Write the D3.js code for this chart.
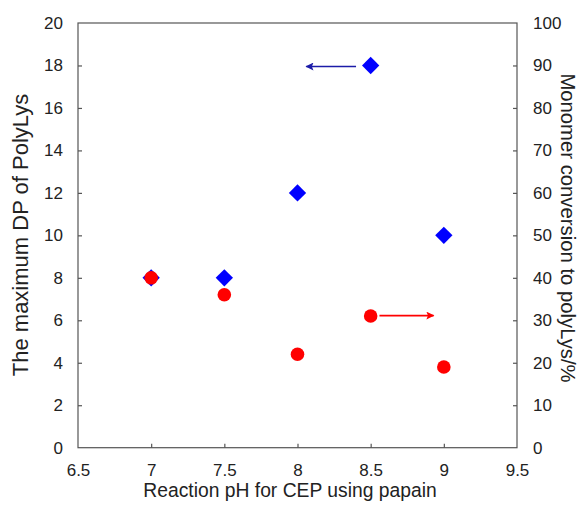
<!DOCTYPE html>
<html><head><meta charset="utf-8">
<script src="https://cdn.jsdelivr.net/npm/d3@7"></script>
<style>body{margin:0;background:#fff;} text{font-family:"Liberation Sans",Arial,sans-serif;fill:#222;}</style>
</head><body>
<svg id="c" width="582" height="506"></svg>
<script>
const phValues = [7, 7.5, 8, 8.5, 9];
const maxDP = [8, 8, 12, 18, 10];
const conversion = [40, 36, 22, 31, 19];
const xTicks = [6.5, 7, 7.5, 8, 8.5, 9, 9.5];
const yLeftTicks = [0, 2, 4, 6, 8, 10, 12, 14, 16, 18, 20];
const yRightTicks = [0, 10, 20, 30, 40, 50, 60, 70, 80, 90, 100];
const blueArrow = {x1: 8.40, x2: 8.06, y: 17.95};
const redArrow = {x1: 8.56, x2: 8.93, y: 31.1};

const svg = d3.select("#c");
const L = 78, R = 517, T = 23, B = 447.7;
const x = d3.scaleLinear().domain([6.5, 9.5]).range([L, R]);
const yL = d3.scaleLinear().domain([0, 20]).range([B, T]);
const yR = d3.scaleLinear().domain([0, 100]).range([B, T]);
const axisColor = "#555";

svg.append("rect").attr("x", L).attr("y", T).attr("width", R - L).attr("height", B - T)
  .attr("fill", "none").attr("stroke", axisColor).attr("stroke-width", 1.2);

function styleAxis(g) {
  g.select(".domain").remove();
  g.selectAll(".tick line").attr("stroke", axisColor).attr("stroke-width", 1.2);
  g.selectAll(".tick text").attr("font-size", 17).attr("fill", "#222")
    .attr("font-family", '"Liberation Sans",Arial,sans-serif');
}
const gx = svg.append("g").attr("transform", `translate(0,${B})`)
  .call(d3.axisBottom(x).tickValues(xTicks).tickFormat(d3.format("")).tickSizeInner(-4).tickPadding(16));
styleAxis(gx);
gx.selectAll(".tick").filter(d => d === 6.5 || d === 9.5).select("line").remove();

const gl = svg.append("g").attr("transform", `translate(${L},0)`)
  .call(d3.axisLeft(yL).tickValues(yLeftTicks).tickFormat(d3.format("")).tickSizeInner(-4).tickPadding(15));
styleAxis(gl);
gl.selectAll(".tick").filter(d => d === 0 || d === 20).select("line").remove();

const gr = svg.append("g").attr("transform", `translate(${R},0)`)
  .call(d3.axisRight(yR).tickValues(yRightTicks).tickFormat(d3.format("")).tickSizeInner(-4).tickPadding(16));
styleAxis(gr);
gr.selectAll(".tick").filter(d => d === 0 || d === 100).select("line").remove();

svg.append("text").attr("x", 290).attr("y", 497).attr("text-anchor", "middle")
  .attr("font-size", 19.3).text("Reaction pH for CEP using papain");
svg.append("text").attr("transform", `translate(28,235) rotate(-90)`).attr("text-anchor", "middle")
  .attr("font-size", 22).text("The maximum DP of PolyLys");
svg.append("text").attr("transform", `translate(561,228) rotate(90)`).attr("text-anchor", "middle")
  .attr("font-size", 20.3).text("Monomer conversion to polyLys/%");

const diamond = d3.symbol().type(d3.symbolSquare).size(150);
svg.append("g").selectAll("path").data(phValues.map((p, i) => [p, maxDP[i]])).join("path")
  .attr("d", diamond)
  .attr("transform", d => `translate(${x(d[0])},${yL(d[1])}) rotate(45)`)
  .attr("fill", "#0000ff");

svg.append("g").selectAll("circle").data(phValues.map((p, i) => [p, conversion[i]])).join("circle")
  .attr("cx", d => x(d[0])).attr("cy", d => yR(d[1])).attr("r", 6.8)
  .attr("fill", "#ff0000");

const defs = svg.append("defs");
function marker(id, color) {
  defs.append("marker").attr("id", id).attr("viewBox", "0 0 10 10").attr("refX", 9).attr("refY", 5)
    .attr("markerWidth", 10).attr("markerHeight", 8).attr("markerUnits", "userSpaceOnUse").attr("orient", "auto")
    .append("path").attr("d", "M0,0 L10,5 L0,10 L2,5 Z").attr("fill", color);
}
marker("mb", "#1c1ca8");
marker("mr", "#ff0000");
svg.append("line").attr("x1", x(blueArrow.x1)).attr("x2", x(blueArrow.x2))
  .attr("y1", yL(blueArrow.y)).attr("y2", yL(blueArrow.y))
  .attr("stroke", "#1c1ca8").attr("stroke-width", 1.6).attr("marker-end", "url(#mb)");
svg.append("line").attr("x1", x(redArrow.x1)).attr("x2", x(redArrow.x2))
  .attr("y1", yR(redArrow.y)).attr("y2", yR(redArrow.y))
  .attr("stroke", "#ff0000").attr("stroke-width", 1.6).attr("marker-end", "url(#mr)");
</script>
</body></html>
